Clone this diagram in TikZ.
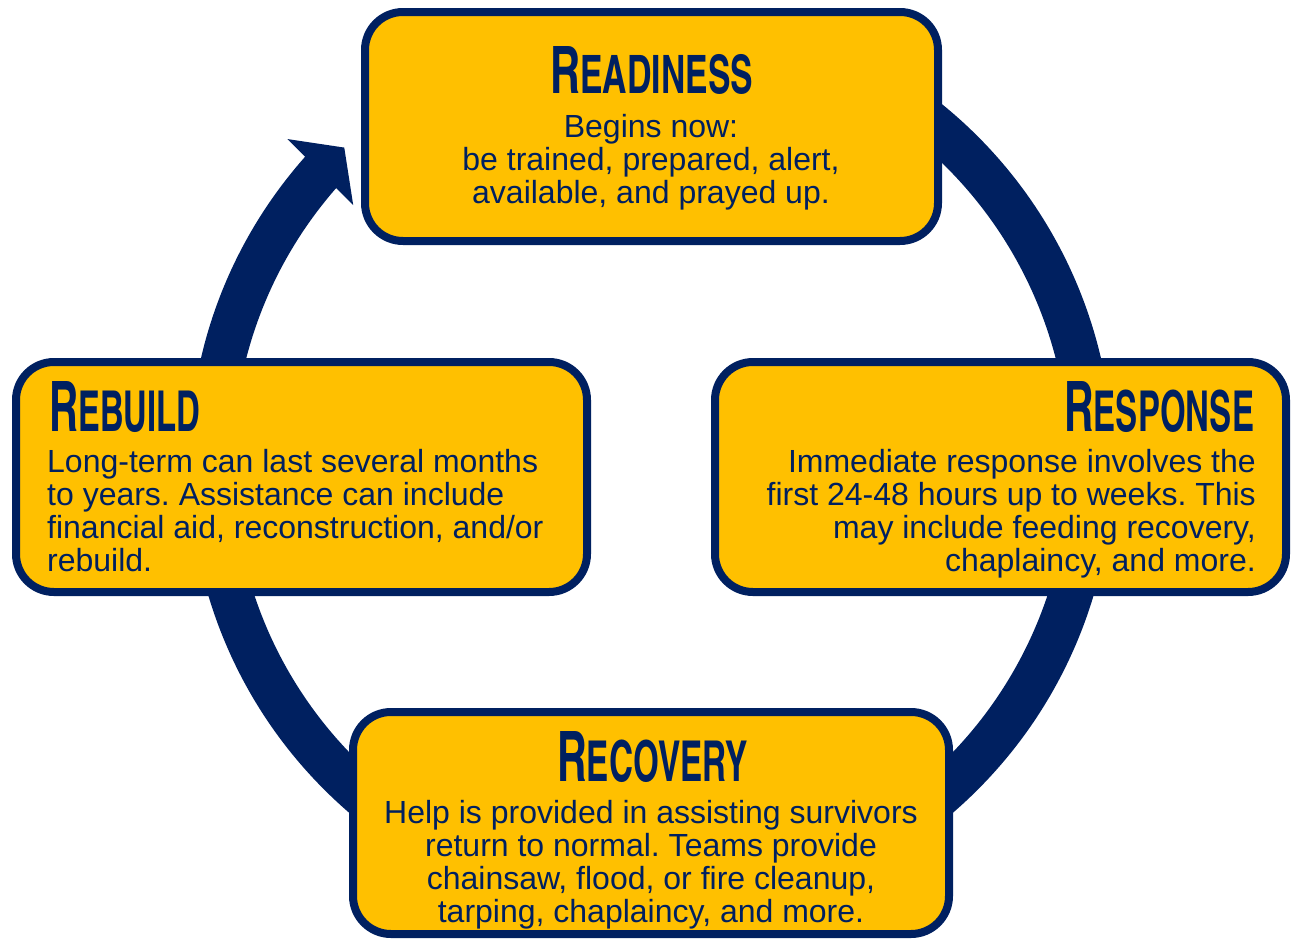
\documentclass[tikz,border=0pt]{standalone}
\usepackage{fontspec}
\usepackage{graphicx}
\setmainfont{Liberation Sans}
\newfontfamily\titlefont{texgyreheroscn-bold.otf}
\definecolor{navy}{HTML}{002060}
\definecolor{gold}{HTML}{FFC000}
\frenchspacing
\newcommand{\phasetitle}[4]{\resizebox{#3pt}{#4pt}{\titlefont\fontsize{60}{60}\selectfont #1\fontsize{48.6}{48.6}\selectfont #2}}
\tikzset{
  box/.style={draw=navy, fill=gold, line width=8pt, rounded corners=38pt, inner sep=0pt},
  ttl/.style={anchor=south west, inner sep=0pt, text=navy},
  body/.style={inner sep=0pt, text=navy, font=\fontsize{32}{33}\selectfont\frenchspacing},
  ring/.style={draw=navy, line width=44pt}
}
\begin{document}
\begin{tikzpicture}[x=1pt,y=1pt]
\useasboundingbox (0,0) rectangle (1291,-940);
\coordinate (C) at (651,-463);
% ring with arrow
\draw[ring] ([shift={(138.0:440pt)}]C) arc[start angle=138.0, end angle=420, radius=440pt];
\coordinate (h1) at ([shift={(138.3:487pt)}]C);
\coordinate (h2) at ([shift={(134.2:440pt)}]C);
\coordinate (h3) at ([shift={(139.1:394pt)}]C);
\fill[navy] (h1) -- (h2) -- (h3) -- cycle;
% boxes
\node[box, minimum width=573pt, minimum height=229pt] (readiness) at (651.5,-126.5) {};
\node[box, minimum width=571pt, minimum height=230pt] (rebuild) at (301.5,-477) {};
\node[box, minimum width=571pt, minimum height=230pt] (response) at (1000.5,-477) {};
\node[box, minimum width=596pt, minimum height=222pt] (recovery) at (651,-823) {};
% titles
\node[ttl] (t1) at (550,-95) {\phasetitle{R}{EADINESS}{203}{47}};
\node[ttl] (t2) at (49,-433) {\phasetitle{R}{EBUILD}{151}{50}};
\node[ttl] (t3) at (1064,-433) {\phasetitle{R}{ESPONSE}{190}{50}};
\node[ttl] (t4) at (557,-783) {\phasetitle{R}{ECOVERY}{191}{50}};
% bodies
\node[body, align=center, anchor=north] (b1) at (651,-114.5) {Begins now:\\be trained, prepared, alert,\\available, and prayed up.};
\node[body, align=left, anchor=north west] (b2) at (47,-449.5) {Long-term can last several months\\to years. Assistance can include\\financial aid, reconstruction, and/or\\rebuild.};
\node[body, align=right, anchor=north east] (b3) at (1256,-449.5) {Immediate response involves the\\first 24-48 hours up to weeks. This\\may include feeding recovery,\\chaplaincy, and more.};
\node[body, align=center, anchor=north] (b4) at (651,-800) {Help is provided in assisting survivors\\return to normal. Teams provide\\chainsaw, flood, or fire cleanup,\\tarping, chaplaincy, and more.};
\end{tikzpicture}
\end{document}
